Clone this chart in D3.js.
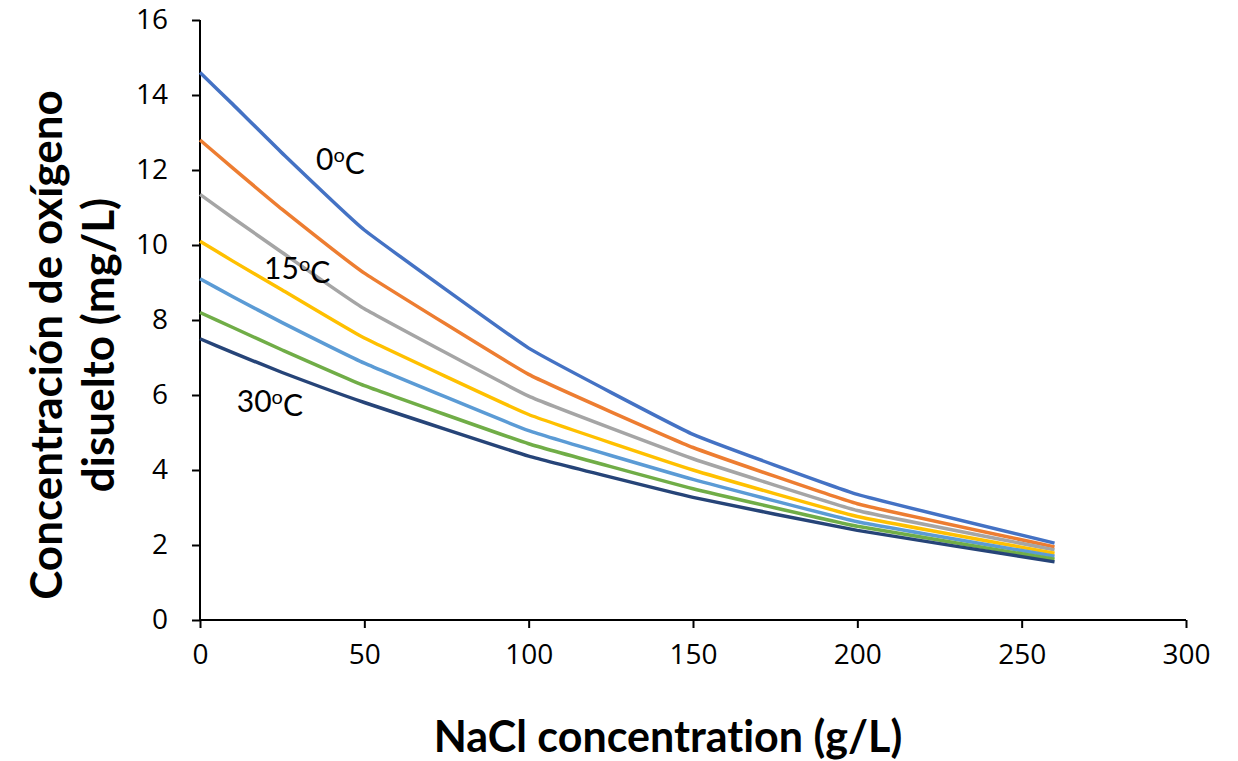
<!DOCTYPE html>
<html>
<head>
<meta charset="utf-8">
<script src="https://cdn.jsdelivr.net/npm/d3@7/dist/d3.min.js"></script>
<style>
  html, body { margin: 0; padding: 0; background: #fff; }
  svg { display: block; }
  text { font-family: Lato, "Open Sans", "Liberation Sans", sans-serif; fill: #000; font-variant-ligatures: none; }
</style>
</head>
<body>
<svg id="chart" width="1238" height="761"></svg>
<script>
// NaCl concentration (g/L) at which dissolved oxygen was evaluated
const nacl = [0, 10, 25, 50, 100, 150, 200, 260];

// Dissolved oxygen (mg/L), one series per temperature
const temps = ["0", "5", "10", "15", "20", "25", "30"];
const do0  = [14.6, 13.75, 12.45, 10.4, 7.25, 4.95, 3.35, 2.05];
const do5  = [12.8, 12.05, 10.95, 9.25, 6.55, 4.6, 3.1, 1.95];
const do10 = [11.35, 10.72, 9.8, 8.3, 5.97, 4.3, 2.92, 1.87];
const do15 = [10.1, 9.57, 8.8, 7.52, 5.48, 4.0, 2.76, 1.78];
const do20 = [9.1, 8.62, 7.93, 6.85, 5.05, 3.75, 2.62, 1.7];
const do25 = [8.2, 7.8, 7.2, 6.25, 4.7, 3.5, 2.5, 1.62];
const do30 = [7.5, 7.13, 6.6, 5.8, 4.37, 3.27, 2.39, 1.55];
const seriesValues = [do0, do5, do10, do15, do20, do25, do30];
const colors = ["#4472C4", "#ED7D31", "#A5A5A5", "#FFC000", "#5B9BD5", "#70AD47", "#264478"];

const xTicks = [0, 50, 100, 150, 200, 250, 300];
const yTicks = [0, 2, 4, 6, 8, 10, 12, 14, 16];

// Temperature labels placed beside their curves (x in g/L, y in mg/L)
const labelText = ["0", "15", "30"];
const labelX = [35.3, 19.5, 11.2];
const labelY = [12.0, 9.1, 5.55];

const svg = d3.select("#chart");
const x = d3.scaleLinear().domain([0, 300]).range([200, 1186]);
const y = d3.scaleLinear().domain([0, 16]).range([620, 20]);

// Axes
const xAxis = d3.axisBottom(x).tickValues(xTicks).tickSize(8).tickPadding(21);
const yAxis = d3.axisLeft(y).tickValues(yTicks).tickSize(8).tickPadding(24);

const gx = svg.append("g").attr("transform", "translate(0,620)").call(xAxis);
const gy = svg.append("g").attr("transform", "translate(200,0)").call(yAxis);
[gx, gy].forEach(g => {
  g.attr("font-size", null).attr("font-family", null);
  g.select(".domain").attr("stroke", "#000").attr("stroke-width", 2);
  g.selectAll(".tick line").attr("stroke", "#000").attr("stroke-width", 2);
  g.selectAll(".tick text")
    .style("font-size", "28px")
    .style("font-family", "'Open Sans', sans-serif")
    .attr("fill", "#222");
});
gx.select(".domain").attr("d", `M${x(0)},0H${x(300)}`);
gx.selectAll(".tick text").attr("dy", "0.55em");
gy.select(".domain").attr("d", `M0,${y(0)}V${y(16)}`);

// Curves: near-linear segments with slightly rounded joints
const line = d3.line()
  .x((d, i) => x(nacl[i]))
  .y(d => y(d))
  .curve(d3.curveCardinal.tension(0.7));

svg.append("g").selectAll("path")
  .data(seriesValues)
  .join("path")
  .attr("d", d => line(d))
  .attr("fill", "none")
  .attr("stroke", (d, i) => colors[i])
  .attr("stroke-width", 3.5)
  .attr("stroke-linejoin", "round")
  .attr("stroke-linecap", "butt");

// Temperature annotations
const ann = svg.append("g");
labelText.forEach((t, i) => {
  const txt = ann.append("text")
    .attr("x", x(labelX[i]))
    .attr("y", y(labelY[i]))
    .style("font-size", "30px");
  txt.append("tspan").text(t);
  txt.append("tspan").text("o").attr("dy", "-0.4em").style("font-size", "20px");
  txt.append("tspan").text("C").attr("dy", "0.4em");
});

// Axis titles
svg.append("text")
  .attr("x", 668).attr("y", 752)
  .attr("text-anchor", "middle")
  .style("font-size", "43px").style("font-weight", "bold")
  .text("NaCl concentration (g/L)");

const yt = svg.append("text")
  .attr("transform", "translate(62,345) rotate(-90)")
  .attr("text-anchor", "middle")
  .style("font-size", "44px").style("font-weight", "bold");
yt.append("tspan").attr("x", 0).attr("dy", 0).text("Concentración de oxígeno");
yt.append("tspan").attr("x", 0).attr("dy", "1.18em").text("disuelto (mg/L)");
</script>
</body>
</html>
